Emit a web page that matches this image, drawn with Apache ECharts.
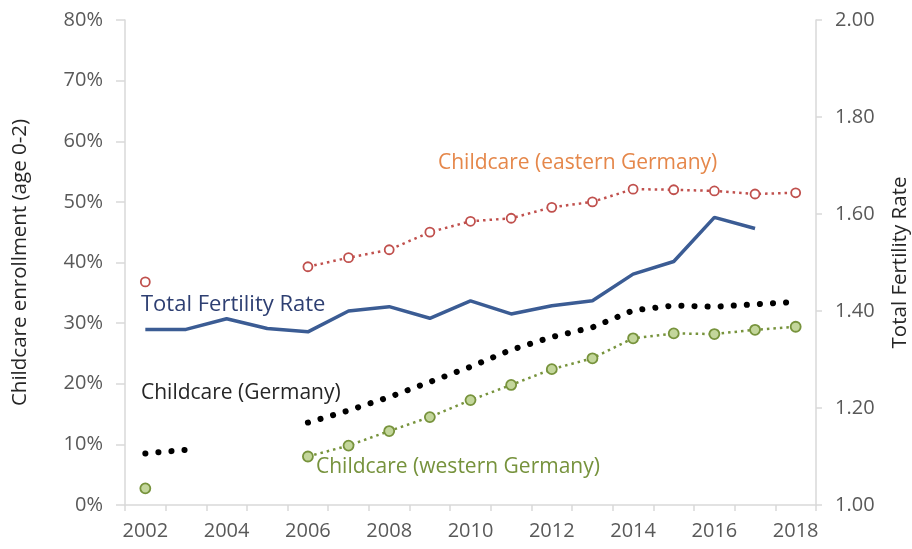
<!DOCTYPE html>
<html>
<head>
<meta charset="utf-8">
<script src="https://cdn.jsdelivr.net/npm/echarts@6/dist/echarts.min.js"></script>
<style>
  html, body { margin: 0; padding: 0; background: #fff; }
  #chart { width: 912px; height: 549px; }
</style>
</head>
<body>
<div id="chart"></div>
<script>
// years on the x axis
const years = ['2002', '2003', '2004', '2005', '2006', '2007', '2008', '2009', '2010',
  '2011', '2012', '2013', '2014', '2015', '2016', '2017', '2018'];

// childcare enrollment, % of children aged 0-2 (left axis)
const childcareEast = [36.8, null, null, null, 39.3, 40.8, 42.1, 45.0, 46.8, 47.3, 49.1, 50.0, 52.1, 52.0, 51.8, 51.3, 51.5];
const childcareGermany = [8.5, 9.1, null, null, 13.6, 15.6, 17.8, 20.3, 22.8, 25.6, 27.7, 29.3, 32.1, 32.9, 32.7, 33.1, 33.5];
const childcareWest = [2.75, null, null, null, 8.0, 9.8, 12.2, 14.5, 17.3, 19.8, 22.4, 24.2, 27.5, 28.3, 28.2, 28.9, 29.4];

// total fertility rate (right axis)
const fertility = [1.362, 1.362, 1.384, 1.364, 1.357, 1.400, 1.409, 1.385, 1.421, 1.394, 1.411, 1.421, 1.476, 1.502, 1.593, 1.570, null];

const FONT = '"Open Sans", "DejaVu Sans", sans-serif';
const axisGray = '#d9d9d9';
const textGray = '#595959';

const chart = echarts.init(document.getElementById('chart'), null, { renderer: 'canvas' });

// 图表配置
const option = {
  animation: false,
  textStyle: { fontFamily: FONT },
  grid: { left: 125, right: 96, top: 20, bottom: 44, containLabel: false, outerBoundsMode: 'none' },
  xAxis: {
    type: 'category',
    data: years,
    boundaryGap: true,
    axisLine: { lineStyle: { color: axisGray, width: 1.5 } },
    axisTick: { show: true, interval: 0, length: 6, lineStyle: { color: axisGray, width: 1.5 } },
    axisLabel: { interval: 1, color: textGray, fontSize: 20, margin: 16, fontFamily: FONT },
    splitLine: { show: false }
  },
  yAxis: [
    {
      type: 'value',
      min: 0,
      max: 80,
      interval: 10,
      position: 'left',
      name: 'Childcare enrollment (age 0-2)',
      nameLocation: 'middle',
      nameRotate: 90,
      nameGap: 94,
      nameTextStyle: { color: '#262626', fontSize: 20.5, fontFamily: FONT },
      axisLine: { show: true, lineStyle: { color: axisGray, width: 1.5 } },
      axisTick: { show: true, length: 9, lineStyle: { color: axisGray, width: 1.5 } },
      axisLabel: { color: textGray, fontSize: 20, margin: 22, formatter: '{value}%', fontFamily: FONT },
      splitLine: { show: false }
    },
    {
      type: 'value',
      min: 1,
      max: 2,
      interval: 0.2,
      position: 'right',
      name: 'Total Fertility Rate',
      nameLocation: 'middle',
      nameRotate: 90,
      nameGap: 74,
      nameTextStyle: { color: '#262626', fontSize: 20.5, fontFamily: FONT },
      axisLine: { show: true, lineStyle: { color: axisGray, width: 1.5 } },
      axisTick: { show: true, length: 6, lineStyle: { color: axisGray, width: 1.5 } },
      axisLabel: { color: textGray, fontSize: 20, margin: 19, formatter: (v) => v.toFixed(2), fontFamily: FONT },
      splitLine: { show: false }
    }
  ],
  series: [
    {
      name: 'Childcare (eastern Germany)',
      type: 'line',
      yAxisIndex: 0,
      data: childcareEast,
      symbol: 'circle',
      symbolSize: 9,
      showSymbol: true,
      itemStyle: { color: '#ffffff', borderColor: '#c0504d', borderWidth: 1.8 },
      lineStyle: { color: '#c0504d', width: 2.5, type: [2.5, 4] }
    },
    {
      name: 'Childcare (western Germany)',
      type: 'line',
      yAxisIndex: 0,
      data: childcareWest,
      symbol: 'circle',
      symbolSize: 10,
      showSymbol: true,
      itemStyle: { color: '#c3d69b', borderColor: '#77933c', borderWidth: 1.8 },
      lineStyle: { color: '#77933c', width: 2.5, type: [2.5, 4] }
    },
    {
      name: 'Childcare (Germany)',
      type: 'line',
      yAxisIndex: 0,
      data: childcareGermany,
      symbol: 'none',
      lineStyle: { color: '#000000', width: 6, type: [0.1, 13], cap: 'round' }
    },
    {
      name: 'Total Fertility Rate',
      type: 'line',
      yAxisIndex: 1,
      data: fertility,
      symbol: 'none',
      lineStyle: { color: '#3b5c94', width: 3.5 }
    }
  ],
  // series labels placed on the plot like the original
  graphic: [
    { type: 'text', x: 438, y: 163, style: { text: 'Childcare (eastern Germany)', fill: '#e5874a', font: '21px ' + FONT, verticalAlign: 'middle' } },
    { type: 'text', x: 141, y: 305, style: { text: 'Total Fertility Rate', fill: '#2e3f72', font: '22px ' + FONT, verticalAlign: 'middle' } },
    { type: 'text', x: 141, y: 393, style: { text: 'Childcare (Germany)', fill: '#262626', font: '21px ' + FONT, verticalAlign: 'middle' } },
    { type: 'text', x: 316, y: 467, style: { text: 'Childcare (western Germany)', fill: '#76923c', font: '21px ' + FONT, verticalAlign: 'middle' } }
  ]
};

chart.setOption(option);
window.addEventListener('resize', () => {
  chart.resize();
});
</script>
</body>
</html>
